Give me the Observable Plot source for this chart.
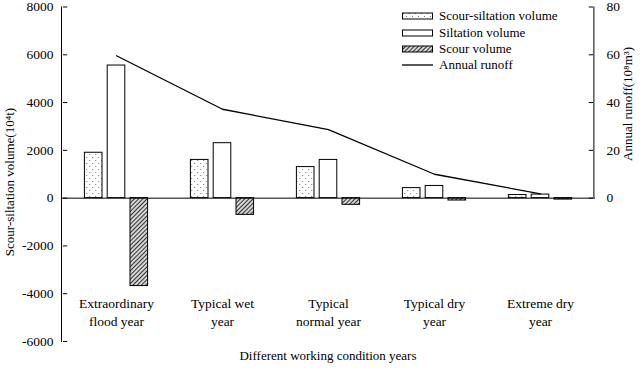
<!DOCTYPE html>
<html><head><meta charset="utf-8">
<script src="https://cdn.jsdelivr.net/npm/d3@7"></script>
<script src="https://cdn.jsdelivr.net/npm/@observablehq/plot@0.6"></script>
<style>
body{margin:0;background:#fff;}
#wrap{position:relative;width:644px;height:369px;font-family:"Liberation Serif","Times New Roman",serif;font-size:13px;color:#000;overflow:hidden;}
.lbl{position:absolute;white-space:nowrap;line-height:1;}
.leg{position:absolute;left:402px;display:flex;align-items:center;white-space:nowrap;height:16px;}
.leg svg{margin-right:5px;}
</style></head><body><div id="wrap"></div>
<script>
// ---- data ----
const years = ["Extraordinary flood year","Typical wet year","Typical normal year","Typical dry year","Extreme dry year"];
const yearLabels = ["Extraordinary\nflood year","Typical wet\nyear","Typical\nnormal year","Typical dry\nyear","Extreme dry\nyear"];
const scourSiltation = [1900, 1600, 1300, 420, 130];
const siltation = [5550, 2300, 1600, 510, 150];
const scour = [-3680, -700, -280, -100, -60];
const runoff = [59.6, 37.2, 28.7, 10.0, 1.8];
const leftTicks = [-6000, -4000, -2000, 0, 2000, 4000, 6000, 8000];
const rightTicks = [0, 20, 40, 60, 80];
const seriesNames = ["Scour-siltation volume", "Siltation volume", "Scour volume", "Annual runoff"];

// ---- layout ----
const W = 644, H = 369, ML = 61, MR = 49, MT = 6.5, MB = 28;
const RATIO = 100; // right axis value * RATIO = left axis value
const bw = (W - ML - MR) / years.length;
const barW = 18.4, step = 22.8;
const inset = (bw - barW) / 2;
const TICK = 5;

const rows = years.map((y, i) => ({year: y, ss: scourSiltation[i], sil: siltation[i], sc: scour[i], runoff: runoff[i]}));
const rightTickVals = rightTicks.map(d => d * RATIO);

const plot = Plot.plot({
  width: W, height: H,
  marginLeft: ML, marginRight: MR, marginTop: MT, marginBottom: MB,
  style: {fontFamily: "Liberation Serif, Times New Roman, serif", fontSize: "13px", background: "white", color: "black"},
  x: {domain: years, padding: 0, axis: null},
  y: {domain: [-6000, 8000], axis: null},
  marks: [
    Plot.barY(rows, {x: "year", y: "ss", fill: "url(#dots)", stroke: "black", strokeWidth: 1, insetLeft: inset, insetRight: inset, dx: -step}),
    Plot.barY(rows, {x: "year", y: "sil", fill: "white", stroke: "black", strokeWidth: 1, insetLeft: inset, insetRight: inset}),
    Plot.barY(rows, {x: "year", y: "sc", fill: "url(#hatch)", stroke: "black", strokeWidth: 1, insetLeft: inset, insetRight: inset, dx: step}),
    Plot.ruleY([0], {stroke: "black", strokeWidth: 1}),
    Plot.lineY(rows, {x: "year", y: d => d.runoff * RATIO, stroke: "black", strokeWidth: 1.3}),
    Plot.frame({anchor: "left", stroke: "black", strokeWidth: 1}),
    Plot.ruleX([years[years.length - 1]], {x: d => d, y1: 0, y2: rightTickVals[rightTickVals.length - 1], dx: bw / 2, stroke: "black", strokeWidth: 1}),
    // inward ticks
    Plot.tickY(leftTicks, {y: d => d, x: () => years[0], insetRight: bw - TICK, stroke: "black", strokeWidth: 1}),
    Plot.tickY(rightTickVals, {y: d => d, x: () => years[years.length - 1], insetLeft: bw - TICK, stroke: "black", strokeWidth: 1}),
    Plot.axisY({anchor: "left", ticks: leftTicks, tickSize: 0, tickPadding: 8, tickFormat: d => String(d), label: null, fontSize: 13.5}),
    Plot.axisY({anchor: "right", ticks: rightTickVals, tickSize: 0, tickPadding: 11, tickFormat: d => String(d / RATIO), label: null, fontSize: 13.5}),
    Plot.axisX({anchor: "bottom", tickSize: 0, tickPadding: 0, dy: -46, tickFormat: d => yearLabels[years.indexOf(d)], label: null, fontSize: 13.5, lineHeight: 1.3})
  ]
});

// patterns
const defs = d3.select(plot).insert("defs", ":first-child");
const dots = defs.append("pattern").attr("id", "dots").attr("width", 6).attr("height", 6).attr("patternUnits", "userSpaceOnUse");
dots.append("rect").attr("width", 6).attr("height", 6).attr("fill", "white");
dots.append("circle").attr("cx", 1.5).attr("cy", 1.5).attr("r", 0.6).attr("fill", "#666");
dots.append("circle").attr("cx", 4.5).attr("cy", 4.5).attr("r", 0.6).attr("fill", "#666");
const hatch = defs.append("pattern").attr("id", "hatch").attr("width", 3).attr("height", 3).attr("patternUnits", "userSpaceOnUse").attr("patternTransform", "rotate(45)");
hatch.append("rect").attr("width", 3).attr("height", 3).attr("fill", "#d4d4d4");
hatch.append("line").attr("x1", 0.5).attr("y1", 0).attr("x2", 0.5).attr("y2", 3).attr("stroke", "#333").attr("stroke-width", 1);

const wrap = document.getElementById("wrap");
wrap.appendChild(plot);

function addLabel(text, x, y, rotate) {
  const d = document.createElement("div");
  d.className = "lbl";
  d.textContent = text;
  d.style.left = x + "px";
  d.style.top = y + "px";
  d.style.transform = "translate(-50%,-50%)" + (rotate ? " rotate(-90deg)" : "");
  wrap.appendChild(d);
}
addLabel("Scour-siltation volume(10\u2074t)", 9, 182, true);
addLabel("Annual runoff(10\u2078m\u00B3)", 627, 104, true);
addLabel("Different working condition years", 328, 355, false);

// legend
const legTops = [8, 25, 41, 57];
const swFill = ["url(#dots)", "white", "url(#hatch)", null];
seriesNames.forEach((name, i) => {
  const row = document.createElement("div");
  row.className = "leg";
  row.style.top = legTops[i] + "px";
  const ns = "http://www.w3.org/2000/svg";
  const s = document.createElementNS(ns, "svg");
  s.setAttribute("width", 32); s.setAttribute("height", 8);
  if (swFill[i]) {
    const r = document.createElementNS(ns, "rect");
    r.setAttribute("x", 0.5); r.setAttribute("y", 1); r.setAttribute("width", 30); r.setAttribute("height", 6);
    r.setAttribute("fill", swFill[i]); r.setAttribute("stroke", "black"); r.setAttribute("stroke-width", 1);
    s.appendChild(r);
  } else {
    const l = document.createElementNS(ns, "line");
    l.setAttribute("x1", 0); l.setAttribute("x2", 31); l.setAttribute("y1", 4); l.setAttribute("y2", 4);
    l.setAttribute("stroke", "black"); l.setAttribute("stroke-width", 1.3);
    s.appendChild(l);
  }
  row.appendChild(s);
  const t = document.createElement("span");
  t.textContent = name;
  row.appendChild(t);
  wrap.appendChild(row);
});
</script></body></html>
